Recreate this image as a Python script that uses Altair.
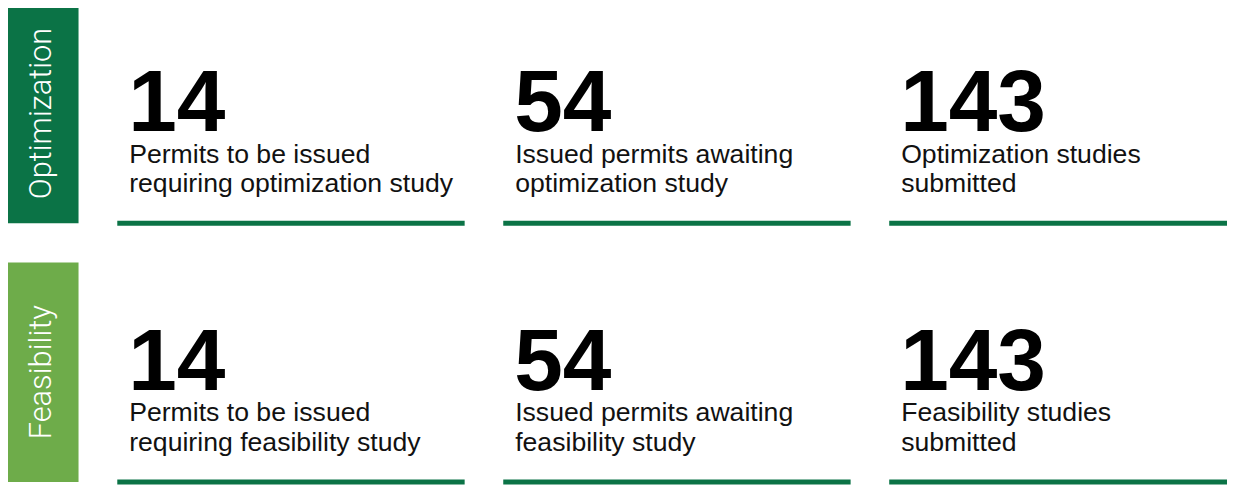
import altair as alt
import pandas as pd

# ---- data ----
sections = ["Optimization", "Feasibility"]
section_colors = ["#0b7346", "#6eac4a"]
values = [[14, 54, 143], [14, 54, 143]]
label_line1 = [
    ["Permits to be issued", "Issued permits awaiting", "Optimization studies"],
    ["Permits to be issued", "Issued permits awaiting", "Feasibility studies"],
]
label_line2 = [
    ["requiring optimization study", "optimization study", "submitted"],
    ["requiring feasibility study", "feasibility study", "submitted"],
]

rows = []
for r in range(len(sections)):
    for c in range(3):
        rows.append({"row": r, "col": c, "value": str(values[r][c]),
                     "l1": label_line1[r][c], "l2": label_line2[r][c]})
cards = pd.DataFrame(rows)
side = pd.DataFrame({"row": list(range(len(sections))), "section": sections})

W, H = 1227, 477
xs = alt.Scale(domain=[0, 3], range=[110, 1275.5], nice=False, zero=False)
ys = alt.Scale(domain=[0, 1], range=[215, 475.5], nice=False, zero=False)

X = lambda f: alt.X(f, type="quantitative", scale=xs, axis=None)
Y = lambda f: alt.Y(f, type="quantitative", scale=ys, axis=None)

base_c = alt.Chart(cards)
base_s = alt.Chart(side)

boxes = base_s.transform_calculate(
    x0="-0.2909", x1="-0.1004", y0="datum.row - 0.848"
).mark_rect().encode(
    x=X("x0"), x2="x1", y=Y("y0"), y2="row",
    color=alt.Color("section:N", scale=alt.Scale(domain=sections, range=section_colors), legend=None),
)

side_text = base_s.transform_calculate(
    xm="-0.1957", ym="datum.row - 0.424"
).mark_text(
    angle=270, align="center", baseline="middle", font="Roboto", fontWeight=300,
    fontSize=31, color="white",
).encode(x=X("xm"), y=Y("ym"), text="section:N")

underline = base_c.transform_calculate(col_end="datum.col + 0.9").mark_rule(
    strokeWidth=5, color="#0b7346", strokeCap="butt"
).encode(x=X("col"), x2="col_end", y=Y("row"))

numbers = base_c.mark_text(
    align="left", baseline="alphabetic", font="Liberation Sans", fontWeight="bold",
    fontSize=88, color="black", dx=11, dy=-93,
).encode(x=X("col"), y=Y("row"), text="value:N")

lab1 = base_c.mark_text(
    align="left", baseline="alphabetic", font="Liberation Sans",
    fontSize=26.8, color="#111111", dx=12, dy=-61,
).encode(x=X("col"), y=Y("row"), text="l1:N")

lab2 = base_c.mark_text(
    align="left", baseline="alphabetic", font="Liberation Sans",
    fontSize=26.8, color="#111111", dx=12, dy=-31,
).encode(x=X("col"), y=Y("row"), text="l2:N")

chart = alt.layer(boxes, side_text, underline, numbers, lab1, lab2).properties(
    width=W, height=H, padding=0, autosize="none", background="white"
).configure_view(stroke=None)

chart.save("out.html", embed_options={"renderer": "svg", "actions": False})
